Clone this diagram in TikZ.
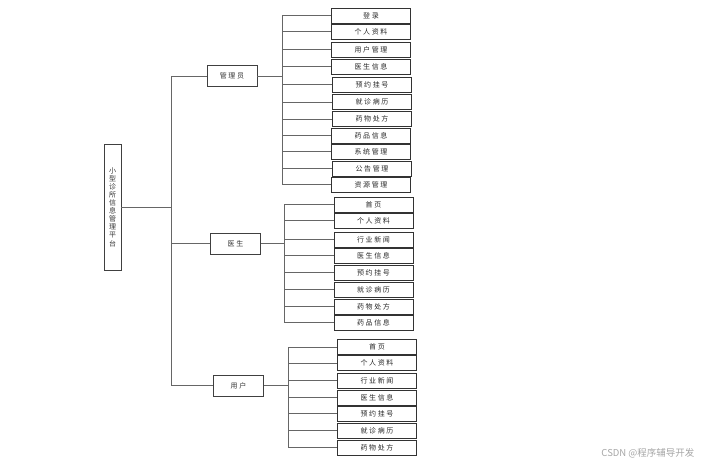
\documentclass[tikz,border=0pt]{standalone}
\usepackage{fontspec}
\newfontfamily\cjk[LetterSpace=22]{Noto Sans CJK SC}
\newfontfamily\cjkmark{Noto Sans CJK SC}
\setmainfont{Liberation Sans}

\tikzset{
  leafbox/.style={draw=black!80,line width=0.8pt,minimum width=79pt,minimum height=15pt,
    inner sep=0pt,text=black!85,font=\cjk\fontsize{7}{8}\selectfont},
  groupbox/.style={draw=black!75,line width=0.8pt,minimum width=50pt,minimum height=21pt,
    inner sep=0pt,text=black!80,font=\cjk\fontsize{7}{8}\selectfont},
  rootbox/.style={draw=black!75,line width=0.8pt,minimum width=17pt,minimum height=126pt,
    inner sep=0pt,align=center,text=black!80,font=\cjkmark\fontsize{7}{8.1}\selectfont},
  wire/.style={draw=black!60,line width=0.9pt}
}

\begin{document}
\begin{tikzpicture}[x=1pt,y=-1pt]
\useasboundingbox (0,0) rectangle (707,467);

\node[rootbox] (root) at (112.5,207) {小\\型\\诊\\所\\信\\息\\管\\理\\平\\台};

\node[groupbox] (admin) at (232,76) {管理员};
\node[groupbox] (doctor) at (235.5,243.5) {医生};
\node[groupbox] (user) at (238.5,385.5) {用户};

\coordinate (trunk) at (171,0);
\coordinate (busA) at (282,0);
\coordinate (busD) at (284,0);
\coordinate (busU) at (288,0);

% admin
\node[leafbox] (a1) at (371,15.5) {登录};
\node[leafbox] (a2) at (371,31.5) {个人资料};
\node[leafbox] (a3) at (371,49.5) {用户管理};
\node[leafbox] (a4) at (371,66.5) {医生信息};
\node[leafbox] (a5) at (372,84.5) {预约挂号};
\node[leafbox] (a6) at (372,102) {就诊病历};
\node[leafbox] (a7) at (372,119) {药物处方};
\node[leafbox] (a8) at (371,135.5) {药品信息};
\node[leafbox] (a9) at (371,151.5) {系统管理};
\node[leafbox] (a10) at (372,168.5) {公告管理};
\node[leafbox] (a11) at (371,184.5) {资源管理};

% doctor
\node[leafbox] (d1) at (373.5,204.5) {首页};
\node[leafbox] (d2) at (373.5,220.5) {个人资料};
\node[leafbox] (d3) at (373.5,239.5) {行业新闻};
\node[leafbox] (d4) at (373.5,255.5) {医生信息};
\node[leafbox] (d5) at (373.5,272.5) {预约挂号};
\node[leafbox] (d6) at (373.5,289.5) {就诊病历};
\node[leafbox] (d7) at (373.5,306.5) {药物处方};
\node[leafbox] (d8) at (373.5,322.5) {药品信息};

% user
\node[leafbox] (u1) at (377,347) {首页};
\node[leafbox] (u2) at (377,363) {个人资料};
\node[leafbox] (u3) at (377,380.5) {行业新闻};
\node[leafbox] (u4) at (377,397.5) {医生信息};
\node[leafbox] (u5) at (377,413.5) {预约挂号};
\node[leafbox] (u6) at (377,430.5) {就诊病历};
\node[leafbox] (u7) at (377,447.5) {药物处方};

% trunk
\draw[wire] (root.east) -- (trunk |- root.east);
\draw[wire] (trunk |- admin.west) -- (trunk |- user.west);
\draw[wire] (trunk |- admin.west) -- (admin.west);
\draw[wire] (trunk |- doctor.west) -- (doctor.west);
\draw[wire] (trunk |- user.west) -- (user.west);

% admin branches
\draw[wire] (admin.east) -- (busA |- admin.east);
\draw[wire] (busA |- a1.west) -- (busA |- a11.west);
\draw[wire] (busA |- a1.west) -- (a1.west);
\draw[wire] (busA |- a2.west) -- (a2.west);
\draw[wire] (busA |- a3.west) -- (a3.west);
\draw[wire] (busA |- a4.west) -- (a4.west);
\draw[wire] (busA |- a5.west) -- (a5.west);
\draw[wire] (busA |- a6.west) -- (a6.west);
\draw[wire] (busA |- a7.west) -- (a7.west);
\draw[wire] (busA |- a8.west) -- (a8.west);
\draw[wire] (busA |- a9.west) -- (a9.west);
\draw[wire] (busA |- a10.west) -- (a10.west);
\draw[wire] (busA |- a11.west) -- (a11.west);

% doctor branches
\draw[wire] (doctor.east) -- (busD |- doctor.east);
\draw[wire] (busD |- d1.west) -- (busD |- d8.west);
\draw[wire] (busD |- d1.west) -- (d1.west);
\draw[wire] (busD |- d2.west) -- (d2.west);
\draw[wire] (busD |- d3.west) -- (d3.west);
\draw[wire] (busD |- d4.west) -- (d4.west);
\draw[wire] (busD |- d5.west) -- (d5.west);
\draw[wire] (busD |- d6.west) -- (d6.west);
\draw[wire] (busD |- d7.west) -- (d7.west);
\draw[wire] (busD |- d8.west) -- (d8.west);

% user branches
\draw[wire] (user.east) -- (busU |- user.east);
\draw[wire] (busU |- u1.west) -- (busU |- u7.west);
\draw[wire] (busU |- u1.west) -- (u1.west);
\draw[wire] (busU |- u2.west) -- (u2.west);
\draw[wire] (busU |- u3.west) -- (u3.west);
\draw[wire] (busU |- u4.west) -- (u4.west);
\draw[wire] (busU |- u5.west) -- (u5.west);
\draw[wire] (busU |- u6.west) -- (u6.west);
\draw[wire] (busU |- u7.west) -- (u7.west);

\node[text=black!35,font=\cjkmark\fontsize{9.5}{10}\selectfont,anchor=east] (mark) at (698,453) {CSDN @程序辅导开发};
\end{tikzpicture}
\end{document}
